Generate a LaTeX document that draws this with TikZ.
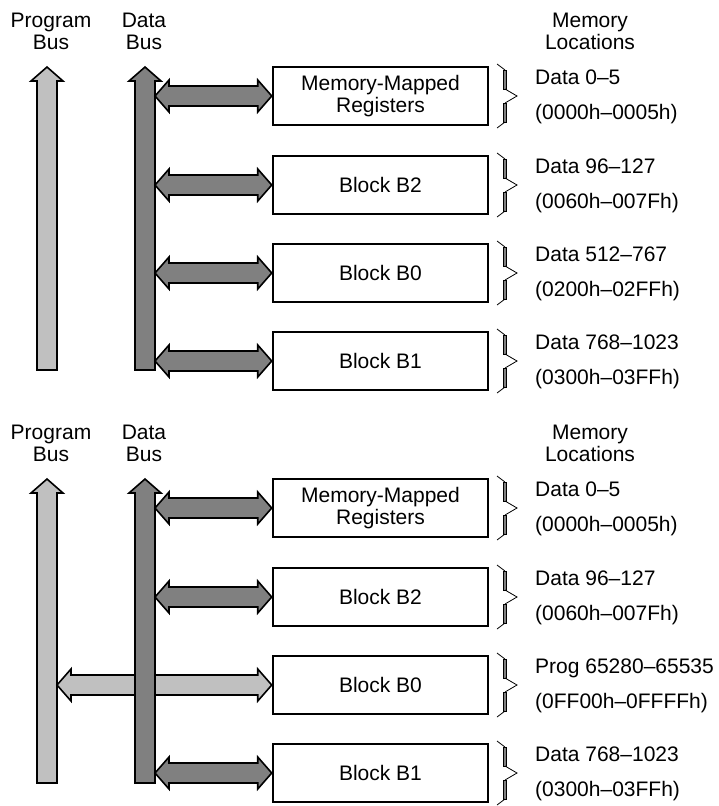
\documentclass[tikz,border=0pt]{standalone}
\usepackage{fontspec}
\setmainfont{Liberation Sans}
\usetikzlibrary{calc}
\definecolor{pbgray}{RGB}{192,192,192}
\definecolor{dbgray}{RGB}{128,128,128}
\newcommand{\busarrow}[3]{%
  \filldraw[fill=#3, line width=1.6pt, line join=miter]
  let \p1=(#1), \p2=(#2.west) in
  (\x1,\y2) -- (\x1+14pt,\y2+16pt) -- (\x1+14pt,\y2+10pt) -- (\x2-14pt,\y2+10pt)
  -- (\x2-14pt,\y2+16pt) -- (\x2,\y2) -- (\x2-14pt,\y2-16pt) -- (\x2-14pt,\y2-10pt)
  -- (\x1+14pt,\y2-10pt) -- (\x1+14pt,\y2-16pt) -- cycle;}
\newcommand{\vbusshape}[4]{%
  \filldraw[fill=#4, line width=1.6pt, line join=miter]
  (#1,#2) -- ({#1+16},{#2+14}) -- ({#1+10},{#2+14}) -- ({#1+10},#3)
  -- ({#1-10},#3) -- ({#1-10},{#2+14}) -- ({#1-16},{#2+14}) -- cycle;}
\tikzset{
  txt/.style={inner sep=0pt, anchor=base, font=\fontsize{21}{22.5}\selectfont},
  ltxt/.style={inner sep=0pt, anchor=base west, font=\fontsize{21}{22.5}\selectfont},
  membox/.style={draw, line width=2.5pt, fill=white, minimum width=215pt, minimum height=58pt,
    inner sep=0pt, align=center, font=\fontsize{21}{22.5}\selectfont},
  membrace/.pic={
    \draw[line width=0.8pt] (0,-32) -- (8,-26);
    \filldraw[fill=dbgray, line width=0.6pt] (6.5,-26) rectangle (9.5,-7);
    \draw[line width=0.8pt] (8,-7) -- (20,0) -- (8,7);
    \filldraw[fill=dbgray, line width=0.6pt] (6.5,7) rectangle (9.5,26);
    \draw[line width=0.8pt] (8,26) -- (0,32);
  }
}
\begin{document}
\begin{tikzpicture}[x=1pt,y=-1pt]
\useasboundingbox (0,0) rectangle (719,806);
\foreach \off/\n in {0/t,412/b}{
  % labels
  \node[txt] (pl1\n) at (51,{27+\off}) {Program};
  \node[txt] (pl2\n) at (51,{49+\off}) {Bus};
  \node[txt] (dl1\n) at (144,{27+\off}) {Data};
  \node[txt] (dl2\n) at (144,{49+\off}) {Bus};
  \node[txt] (ml1\n) at (590,{27+\off}) {Memory};
  \node[txt] (ml2\n) at (590,{49+\off}) {Locations};
  % boxes
  \node[membox] (mmr\n) at (380.5,{96+\off}) {Memory-Mapped\\Registers};
  \node[membox] (b2\n) at (380.5,{185+\off}) {Block B2};
  \node[membox] (b0\n) at (380.5,{273+\off}) {Block B0};
  \node[membox] (b1\n) at (380.5,{361+\off}) {Block B1};
  % braces
  \pic at (497,{96+\off}) {membrace};
  \pic at (497,{185+\off}) {membrace};
  \pic at (497,{273+\off}) {membrace};
  \pic at (497,{361+\off}) {membrace};
  % bus edges
  \coordinate (pbR\n) at (57,{200+\off});
  \coordinate (dbR\n) at (155,{200+\off});
}
% program buses
\vbusshape{47}{67}{370}{pbgray}
\vbusshape{47}{479}{783}{pbgray}
% program bus to B0 (bottom)
\busarrow{pbRb}{b0b}{pbgray}
% data buses
\vbusshape{145}{67}{370}{dbgray}
\vbusshape{145}{479}{783}{dbgray}
% data arrows
\busarrow{dbRt}{mmrt}{dbgray}
\busarrow{dbRt}{b2t}{dbgray}
\busarrow{dbRt}{b0t}{dbgray}
\busarrow{dbRt}{b1t}{dbgray}
\busarrow{dbRb}{mmrb}{dbgray}
\busarrow{dbRb}{b2b}{dbgray}
\busarrow{dbRb}{b1b}{dbgray}
% location texts
\node[ltxt] (t1a) at (535,84) {Data 0–5};
\node[ltxt] (t1b) at (535,119) {(0000h–0005h)};
\node[ltxt] (t2a) at (535,173) {Data 96–127};
\node[ltxt] (t2b) at (535,208) {(0060h–007Fh)};
\node[ltxt] (t3a) at (535,261) {Data 512–767};
\node[ltxt] (t3b) at (535,296) {(0200h–02FFh)};
\node[ltxt] (t4a) at (535,349) {Data 768–1023};
\node[ltxt] (t4b) at (535,384) {(0300h–03FFh)};
\node[ltxt] (u1a) at (535,496) {Data 0–5};
\node[ltxt] (u1b) at (535,531) {(0000h–0005h)};
\node[ltxt] (u2a) at (535,585) {Data 96–127};
\node[ltxt] (u2b) at (535,620) {(0060h–007Fh)};
\node[ltxt] (u3a) at (535,673) {Prog 65280–65535};
\node[ltxt] (u3b) at (535,708) {(0FF00h–0FFFFh)};
\node[ltxt] (u4a) at (535,761) {Data 768–1023};
\node[ltxt] (u4b) at (535,796) {(0300h–03FFh)};
\end{tikzpicture}
\end{document}
